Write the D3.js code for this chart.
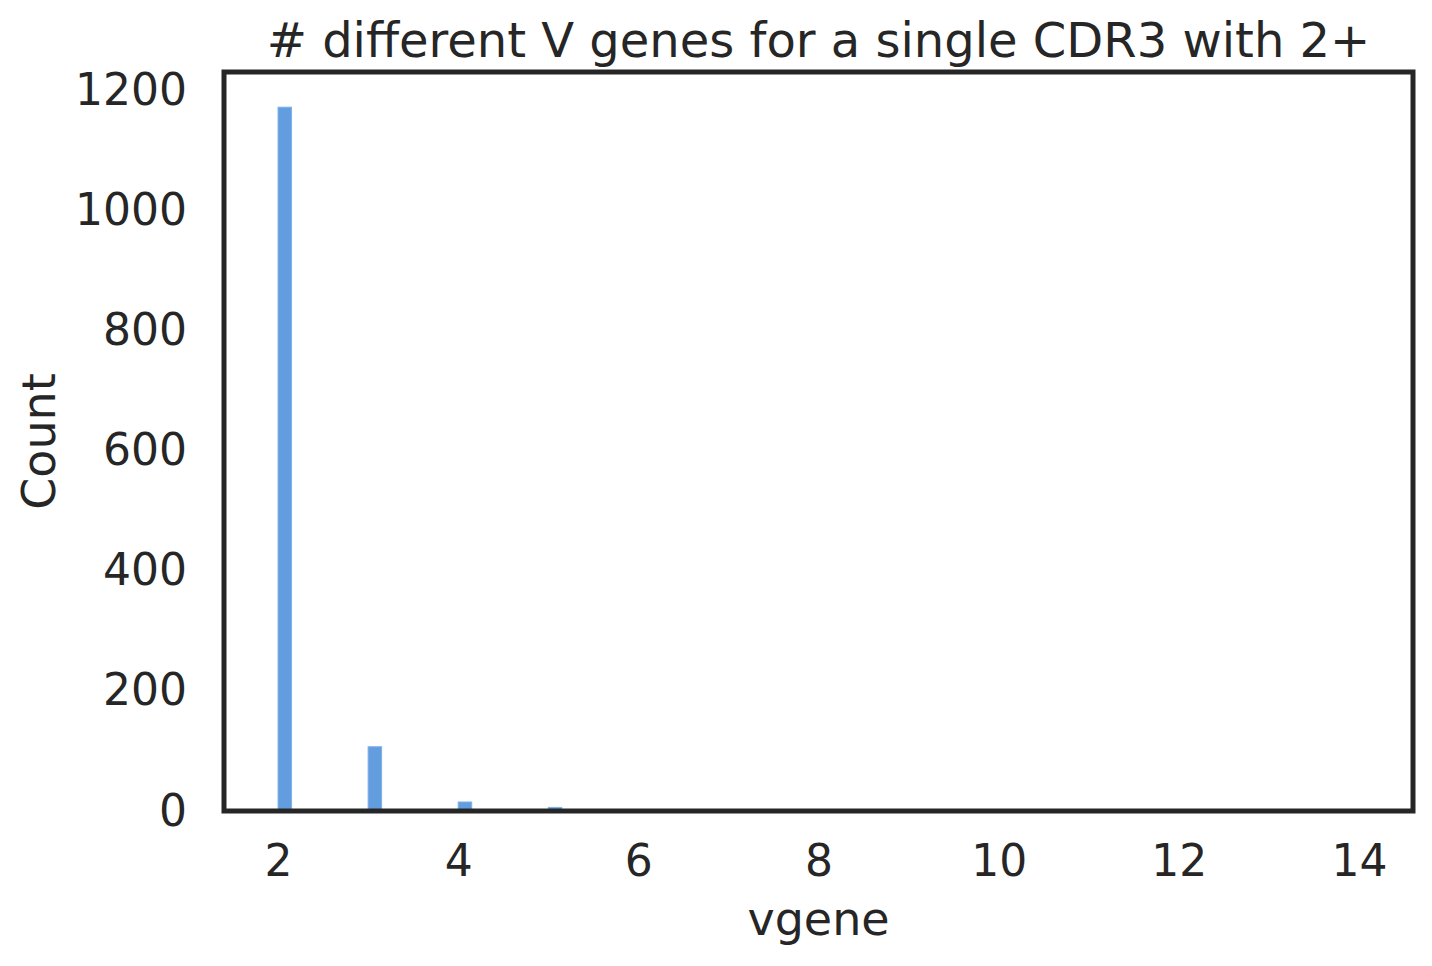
<!DOCTYPE html>
<html>
<head>
<meta charset="utf-8">
<script src="https://cdn.jsdelivr.net/npm/d3@7"></script>
<style>
  body { margin: 0; background: #fff; }
  text { font-family: "DejaVu Sans", sans-serif; fill: #262626; }
</style>
</head>
<body>
<div id="chart"></div>
<script>
// histogram bins: left edge of each bin and its count
const binStarts = [2, 3, 4, 5, 6, 7, 8, 9, 10, 11, 12, 13, 14];
const counts = [1172, 107, 15, 6, 1, 0, 0, 0, 0, 0, 0, 0, 1];
const binWidth = 0.15;
const xTicks = [2, 4, 6, 8, 10, 12, 14];
const yTicks = [0, 200, 400, 600, 800, 1000, 1200];

const W = 1432, H = 966;
const margin = { top: 72, right: 19, bottom: 155, left: 224 };
const width = W - margin.left - margin.right;
const height = H - margin.top - margin.bottom;

const svg = d3.select("#chart").append("svg")
    .attr("width", W)
    .attr("height", H);

const g = svg.append("g")
    .attr("transform", `translate(${margin.left},${margin.top})`);

const xMin = d3.min(binStarts);
const pad = (d3.max(binStarts) - xMin) * 0.05;
const x = d3.scaleLinear().domain([xMin - pad, d3.max(binStarts) + pad]).range([0, width]);
const y = d3.scaleLinear().domain([0, d3.max(counts) * 1.05]).range([height, 0]);

const bins = binStarts.map((b, i) => ({ x0: b, x1: b + binWidth, n: counts[i] }));

g.selectAll(".bar")
    .data(bins.filter(d => d.n > 0))
    .enter()
    .append("rect")
    .attr("class", "bar")
    .attr("x", d => x(d.x0))
    .attr("y", d => y(d.n))
    .attr("width", d => x(d.x1) - x(d.x0))
    .attr("height", d => height - y(d.n))
    .attr("fill", "#629de0")
    .attr("stroke", "#7fb0ea")
    .attr("stroke-width", 1);

const xAxis = g.append("g")
    .attr("transform", `translate(0,${height})`)
    .call(d3.axisBottom(x).tickValues(xTicks).tickFormat(d3.format("d")).tickSize(0).tickPadding(34));
xAxis.select(".domain").remove();
xAxis.selectAll("text").style("font-size", "44px").attr("fill", "#262626");

const yAxis = g.append("g")
    .call(d3.axisLeft(y).tickValues(yTicks).tickFormat(d3.format("d")).tickSize(0).tickPadding(37));
yAxis.select(".domain").remove();
yAxis.selectAll("text").style("font-size", "44px").attr("fill", "#262626");

// frame
g.append("rect")
    .attr("x", 0).attr("y", 0)
    .attr("width", width).attr("height", height)
    .attr("fill", "none")
    .attr("stroke", "#262626")
    .attr("stroke-width", 5);

g.append("text")
    .attr("x", width / 2)
    .attr("y", -15)
    .attr("text-anchor", "middle")
    .style("font-size", "48px")
    .text("# different V genes for a single CDR3 with 2+");

g.append("text")
    .attr("x", width / 2)
    .attr("y", height + 124)
    .attr("text-anchor", "middle")
    .style("font-size", "46px")
    .text("vgene");

g.append("text")
    .attr("transform", `translate(${55 - margin.left},${height / 2}) rotate(-90)`)
    .attr("text-anchor", "middle")
    .style("font-size", "46px")
    .text("Count");
</script>
</body>
</html>
